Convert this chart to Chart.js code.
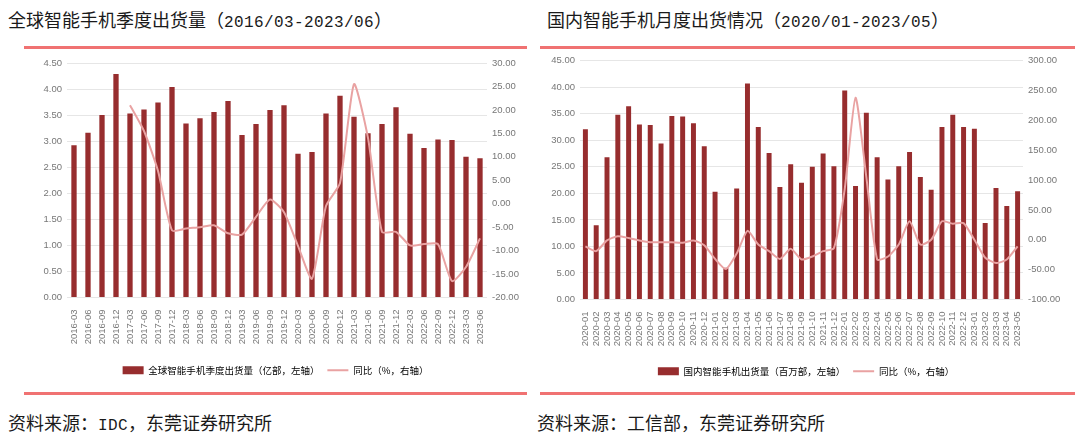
<!DOCTYPE html>
<html>
<head>
<meta charset="utf-8">
<script src="https://cdn.jsdelivr.net/npm/chart.js@4.4.0/dist/chart.umd.min.js"></script>
<style>
  html, body { margin: 0; padding: 0; background: #fff; }
  body { width: 1080px; height: 439px; position: relative; overflow: hidden;
         font-family: "Noto Sans CJK SC", sans-serif; color: #1a1a1a; }
  .txt { position: absolute; font-size: 18px; line-height: 24px; white-space: nowrap; }
  .mono { font-family: "Liberation Mono", monospace; font-size: 16px; letter-spacing: 0.4px; }
  .rule { position: absolute; height: 3px; background: #f07272; }
  .box { position: absolute; }
</style>
</head>
<body>
<div class="txt" style="left:8px;top:7px">全球智能手机季度出货量（<span class="mono">2016/03-2023/06</span>）</div>
<div class="txt" style="left:547px;top:7px">国内智能手机月度出货情况（<span class="mono">2020/01-2023/05</span>）</div>
<div class="rule" style="left:24px;width:503px;top:46px"></div>
<div class="rule" style="left:540px;width:535px;top:46px"></div>
<div class="box" style="left:24px;top:50px;width:503px;height:340px"><canvas id="globalChart"></canvas></div>
<div class="box" style="left:537px;top:50px;width:538px;height:340px"><canvas id="chinaChart"></canvas></div>
<div class="rule" style="left:24px;width:503px;top:392px"></div>
<div class="rule" style="left:540px;width:535px;top:392px"></div>
<div class="txt" style="left:8px;top:410px">资料来源：<span class="mono">IDC</span>，东莞证券研究所</div>
<div class="txt" style="left:537px;top:410px">资料来源：工信部，东莞证券研究所</div>

<script>
// quarterly global shipments (left chart)
const quarterLabels = [
    '2016-03', '2016-06', '2016-09', '2016-12',
    '2017-03', '2017-06', '2017-09', '2017-12',
    '2018-03', '2018-06', '2018-09', '2018-12',
    '2019-03', '2019-06', '2019-09', '2019-12',
    '2020-03', '2020-06', '2020-09', '2020-12',
    '2021-03', '2021-06', '2021-09', '2021-12',
    '2022-03', '2022-06', '2022-09', '2022-12',
    '2023-03', '2023-06'
];
const globalShipments = [2.92, 3.16, 3.50, 4.29, 3.53, 3.61, 3.74, 4.04, 3.34, 3.44, 3.56, 3.77,
    3.12, 3.33, 3.60, 3.69, 2.76, 2.79, 3.53, 3.87, 3.47, 3.15, 3.33, 3.65,
    3.14, 2.87, 3.03, 3.02, 2.70, 2.67];
const globalYoY = [null, null, null, null, 21.0, 15.5, 7.0, -5.7, -5.3, -5.0, -4.6, -6.3,
    -6.6, -2.8, 0.9, -1.8, -9.0, -16.0, -0.5, 4.4, 25.5, 14.0, -6.0, -6.0,
    -8.9, -8.6, -8.6, -16.5, -13.5, -7.4];

// monthly China shipments (right chart)
const monthLabels = [
    '2020-01', '2020-02', '2020-03', '2020-04', '2020-05', '2020-06',
    '2020-07', '2020-08', '2020-09', '2020-10', '2020-11', '2020-12',
    '2021-01', '2021-02', '2021-03', '2021-04', '2021-05', '2021-06',
    '2021-07', '2021-08', '2021-09', '2021-10', '2021-11', '2021-12',
    '2022-01', '2022-02', '2022-03', '2022-04', '2022-05', '2022-06',
    '2022-07', '2022-08', '2022-09', '2022-10', '2022-11', '2022-12',
    '2023-01', '2023-02', '2023-03', '2023-04', '2023-05'
];
const chinaShipments = [32.1, 14.0, 26.8, 34.8, 36.4, 33.0, 32.9, 29.4, 34.6, 34.5, 33.2, 28.9,
    20.3, 6.0, 20.9, 40.7, 32.5, 27.6, 21.2, 25.5, 22.0, 25.0, 27.5, 25.1,
    39.4, 21.4, 35.2, 26.8, 22.6, 25.1, 27.8, 23.1, 20.7, 32.5, 34.8, 32.5,
    32.2, 14.4, 21.0, 17.6, 20.4];
const chinaYoY = [-11, -19, -1, 6, 3, -1, -4, -4, -4, -5, -1, -9,
    -32, -49, -23, 15, -8, -19, -32, -15, -33, -28, -19, -14,
    85, 238, 105, -33, -28, -8, 31, -8, 0, 31, 27, 28,
    0, -30, -39, -33, -11];

const barColor = '#972d2e';
const lineColor = '#e9a2a2';
const tickFont = { family: '"Liberation Sans", Arial, sans-serif', size: 9.5 };
const tickColor = '#777';

Chart.defaults.font.family = '"Noto Sans CJK SC", sans-serif';
Chart.defaults.animation = false;

function buildChart(canvasId, opts) {
    const ctx = document.getElementById(canvasId).getContext('2d');
    return new Chart(ctx, {
        data: {
            labels: opts.labels,
            datasets: [{
                type: 'bar',
                label: opts.barLabel,
                data: opts.bars,
                backgroundColor: barColor,
                barPercentage: opts.barPct,
                categoryPercentage: 1,
                yAxisID: 'y',
                order: 1
            }, {
                type: 'line',
                label: '同比（%，右轴）',
                data: opts.yoy,
                borderColor: lineColor,
                backgroundColor: lineColor,
                borderWidth: 2,
                pointRadius: 0,
                tension: 0.2,
                yAxisID: 'y1',
                order: 0
            }]
        },
        options: {
            responsive: true,
            maintainAspectRatio: false,
            layout: { padding: { top: opts.padTop, bottom: opts.padBottom } },
            plugins: {
                tooltip: { enabled: false },
                legend: {
                    position: 'bottom',
                    labels: {
                        usePointStyle: true,
                        pointStyleWidth: 21,
                        boxHeight: 8,
                        padding: 8,
                        color: '#333',
                        font: { size: 9.5 },
                        generateLabels: chart => chart.data.datasets.map((ds, i) => ({
                            text: ds.label,
                            datasetIndex: i,
                            pointStyle: ds.type === 'line' ? 'line' : 'rect',
                            fillStyle: ds.backgroundColor,
                            strokeStyle: ds.type === 'line' ? ds.borderColor : ds.backgroundColor,
                            lineWidth: ds.type === 'line' ? 2 : 0,
                            hidden: false
                        }))
                    }
                }
            },
            scales: {
                x: {
                    grid: { display: false },
                    border: { display: false },
                    ticks: {
                        autoSkip: false, maxRotation: 90, minRotation: 90,
                        font: tickFont, color: tickColor, padding: 4
                    },
                    afterFit: s => { s.height = opts.xHeight; }
                },
                y: {
                    position: 'left',
                    min: opts.leftMin, max: opts.leftMax,
                    ticks: {
                        stepSize: opts.leftStep, font: tickFont, color: tickColor, padding: 5,
                        callback: v => v.toFixed(2)
                    },
                    grid: { color: '#e6e6e6', drawTicks: false },
                    border: { display: false },
                    afterFit: s => { s.width = opts.leftWidth; }
                },
                y1: {
                    position: 'right',
                    min: opts.rightMin, max: opts.rightMax,
                    ticks: {
                        stepSize: opts.rightStep, font: tickFont, color: tickColor, padding: 5,
                        callback: v => v.toFixed(2)
                    },
                    grid: { display: false, drawTicks: false },
                    border: { display: false },
                    afterFit: s => { s.width = opts.rightWidth; }
                }
            }
        }
    });
}

buildChart('globalChart', {
    labels: quarterLabels,
    bars: globalShipments,
    yoy: globalYoY,
    barLabel: '全球智能手机季度出货量（亿部，左轴）',
    barPct: 0.38,
    leftMin: 0, leftMax: 4.5, leftStep: 0.5,
    rightMin: -20, rightMax: 30, rightStep: 5,
    leftWidth: 43, rightWidth: 40,
    xHeight: 60,
    padTop: 13, padBottom: 5
});

buildChart('chinaChart', {
    labels: monthLabels,
    bars: chinaShipments,
    yoy: chinaYoY,
    barLabel: '国内智能手机出货量（百万部，左轴）',
    barPct: 0.46,
    leftMin: 0, leftMax: 45, leftStep: 5,
    rightMin: -100, rightMax: 300, rightStep: 50,
    leftWidth: 43, rightWidth: 52,
    xHeight: 59,
    padTop: 10, padBottom: 4
});
</script>
</body>
</html>
